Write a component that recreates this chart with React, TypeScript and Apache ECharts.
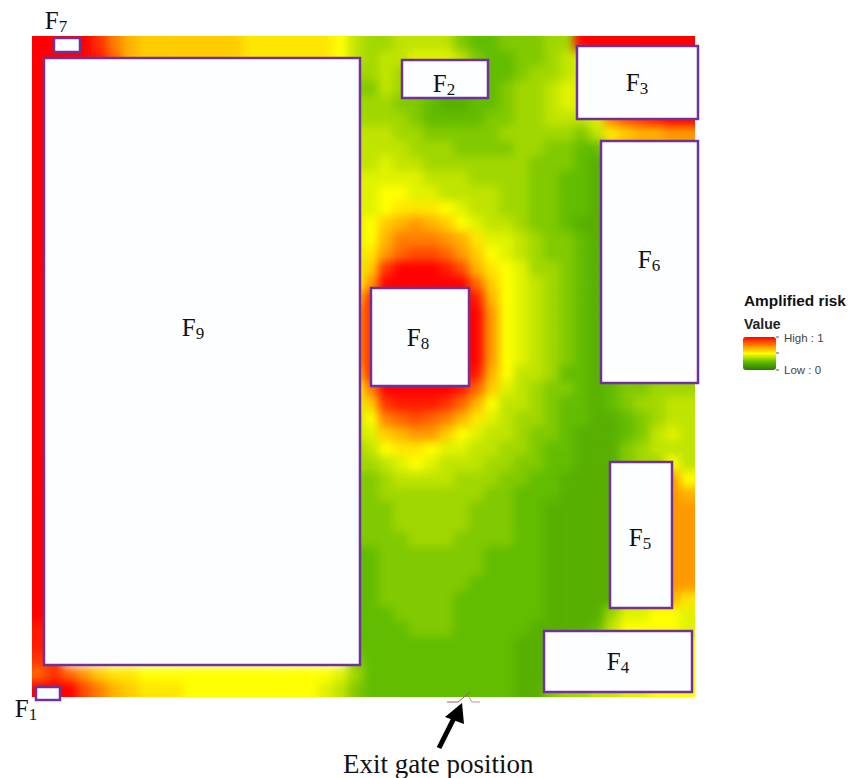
import React, { useEffect, useRef } from "react";
import * as echarts from "echarts";

// Risk field: one character per cell, "0".."k" = 0..20 twentieths of full risk,
// "." = cell deep inside the largest facility (never visible).
const RISK_CODES = "0123456789abcdefghijk";
const RISK_ROWS = [
  "kkkkifdcccccccbbbbbba8" + "77888865566677" + "kkkkkkkk",
  "kkkkjgdcccccccbbbbbba8" + "78899986556678" + "9kkkkkkk",
  "kk...................7" + "78766555556778" + "9kkkkkkk",
  "kk...................6" + "68766555567789" + "9kkkkkkk",
  "kk...................7" + "77665445567789" + "9kkkkkkk",
  "kk...................7" + "77765555667788" + "89fhijkk",
  "kk...................8" + "88776666677777" + "68bcddee",
  "kk...................8" + "88877766667766" + "55ceeeee",
  "kk...................8" + "89887777777666" + "54455555",
  "kk...................9" + "99998887777665" + "54455555",
  "kk...................9" + "9aa99888877665" + "54455555",
  "kk...................9" + "9abbba98877665" + "54455555",
  "kk...................9" + "acdedca9887665" + "44455555",
  "kk...................9" + "adfffedb998766" + "54455555",
  "kk...................9" + "beghhgeca98766" + "54455555",
  "kk...................9" + "cikkkjhdba9776" + "54455555",
  "kk...................a" + "ekkkkkkgca9876" + "54455555",
  "kk...................c" + "ikkkkkkjda9876" + "54455555",
  "kk...................e" + "ikkkkkkkea9876" + "54455555",
  "kk...................e" + "ikkkkkkkea9876" + "54455555",
  "kk...................e" + "ikkkkkkkea9876" + "54455555",
  "kk...................e" + "ikkkkkkkea9876" + "54455555",
  "kk...................c" + "ikkkkkkjda8875" + "54455566",
  "kk...................a" + "fkkkkkjgc98766" + "54566777",
  "kk...................9" + "cijjjigda88765" + "54567788",
  "kk...................8" + "afghgfdb987765" + "54456788",
  "kk...................8" + "9cdeeca9887665" + "44456898",
  "kk...................7" + "8abba998877655" + "44467888",
  "kk...................7" + "789a9888776655" + "444677a8",
  "kk...................6" + "67888877766554" + "444777ea",
  "kk...................6" + "67777777665554" + "44488ded",
  "kk...................6" + "66777776665544" + "44488dee",
  "kk...................6" + "66777776665544" + "44488dee",
  "kk...................6" + "66677766665544" + "44488dee",
  "kk...................5" + "56666666555544" + "44488dee",
  "kk...................5" + "56666666555544" + "44488dee",
  "kk...................5" + "56666665555544" + "44488dee",
  "kk...................5" + "56666655555544" + "44488cdb",
  "kk...................5" + "55666655555544" + "44799aa9",
  "jj...................5" + "55566655555444" + "458aaaa9",
  "jj...................5" + "55555555554445" + "6789aaaa",
  "ii...................6" + "55555555554445" + "6789aaaa",
  "gigecbbaaaaaaaaaaaaa97" + "55555555554445" + "6789aaaa",
  "kkkhfdcbbbaaaaaaaaa986" + "55555555554467" + "78899aaa",
];

const FACILITY_NAMES = ["1", "2", "3", "4", "5", "6", "7", "8", "9"];
const FACILITY_X0 = [4, 370, 545, 512, 578, 569, 22, 339, 12];
const FACILITY_X1 = [28, 456, 666, 660, 640, 666, 48, 437, 328];
const FACILITY_Y0 = [651, 24, 10, 595, 426, 105, 2, 252, 22];
const FACILITY_Y1 = [664, 62, 83, 656, 572, 347, 16, 350, 629];
const LABEL_X = [-6, 412, 605, 586, 608, 617, 24, 386, 161];
const LABEL_Y = [672, 47, 46, 625, 501, 223, -16, 301, 291];

const RISK_COLORS = ["#2a7a00", "#62bc00", "#ffff00", "#ff8000", "#ff0000"];

const PAD_ROWS = [RISK_ROWS[0], ...RISK_ROWS, RISK_ROWS[RISK_ROWS.length - 1]].map(
  (r) => r[0] + r + r[r.length - 1],
);
const COLUMNS = PAD_ROWS[0].split("").map((_, i) => String(i));
const ROWS = PAD_ROWS.map((_, i) => String(i));
const SITE_W = 663;
const SITE_H = 661;
const PAD = 15;

export default function App() {
  const ref = useRef<HTMLDivElement>(null);
  const heatRef = useRef<HTMLDivElement>(null);
  useEffect(() => {
    if (!ref.current || !heatRef.current) return;
    const heat = echarts.init(heatRef.current, undefined, { renderer: "svg" });
    const chart = echarts.init(ref.current, undefined, { renderer: "svg" });
    const cells: number[][] = [];
    PAD_ROWS.forEach((row, y) => {
      row.split("").forEach((ch, x) => {
        const idx = RISK_CODES.indexOf(ch);
        if (idx >= 0) cells.push([x, y, idx / 20]);
      });
    });
    heat.setOption({
      animation: false,
      grid: { left: 0, right: 0, top: 0, bottom: 0 },
      xAxis: { type: "category", data: COLUMNS, show: false },
      yAxis: { type: "category", data: ROWS, inverse: true, show: false },
      visualMap: {
        show: false,
        seriesIndex: 0,
        dimension: 2,
        min: 0,
        max: 1,
        inRange: { color: RISK_COLORS },
      },
      series: [
        {
          type: "heatmap",
          data: cells,
          silent: true,
          itemStyle: { borderWidth: 0 },
          emphasis: { disabled: true },
        },
      ],
    });
    const facilityData = FACILITY_NAMES.map((n, i) => [
      FACILITY_X0[i], FACILITY_Y0[i], FACILITY_X1[i], FACILITY_Y1[i], LABEL_X[i], LABEL_Y[i], n,
    ]);
    const serif = "'Liberation Serif', 'Times New Roman', serif";
    const sans = "'Liberation Sans', Arial, sans-serif";
    chart.setOption({
      animation: false,
      grid: { left: 32, top: 36, width: SITE_W, height: SITE_H },
      xAxis: { type: "value", min: 0, max: SITE_W, show: false },
      yAxis: { type: "value", min: 0, max: SITE_H, inverse: true, show: false },
      visualMap: {
        type: "continuous",
        seriesIndex: 0,
        dimension: 7,
        min: 0,
        max: 1,
        calculable: false,
        left: 743,
        top: 337,
        itemWidth: 33,
        itemHeight: 33,
        text: ["", ""],
        padding: 0,
        inRange: { color: RISK_COLORS },
      },
      series: [
        {
          type: "custom",
          silent: true,
          clip: false,
          z: 5,
          data: facilityData,
          encode: { x: [0, 2], y: [1, 3] },
          renderItem: (_p: any, api: any) => {
            const a = api.coord([api.value(0), api.value(1)]);
            const b = api.coord([api.value(2), api.value(3)]);
            const l = api.coord([api.value(4), api.value(5)]);
            return {
              type: "group",
              children: [
                {
                  type: "rect",
                  shape: { x: a[0], y: a[1], width: b[0] - a[0], height: b[1] - a[1] },
                  style: { fill: "#fdfeff", stroke: "#7030a0", lineWidth: 2.5 },
                },
                {
                  type: "text",
                  x: l[0],
                  y: l[1],
                  style: {
                    text: `{f|F}{s|${api.value(6)}}`,
                    align: "center",
                    verticalAlign: "middle",
                    fill: "#111111",
                    rich: {
                      f: { fontFamily: serif, fontSize: 25, fill: "#111111", height: 30, verticalAlign: "middle" },
                      s: { fontFamily: serif, fontSize: 17, fill: "#111111", height: 30, verticalAlign: "bottom", padding: [12, 0, 0, 0] },
                    },
                  },
                },
              ],
            };
          },
        },
      ],
      graphic: [
        { type: "text", x: 744, y: 293, style: { text: "Amplified risk", font: `bold 15.4px ${sans}`, fill: "#111" } },
        { type: "text", x: 744, y: 317, style: { text: "Value", font: `bold 14px ${sans}`, fill: "#222" } },
        { type: "text", x: 784, y: 332, style: { text: "High : 1", font: `11.5px ${sans}`, fill: "#444" } },
        { type: "text", x: 784, y: 364, style: { text: "Low : 0", font: `11.5px ${sans}`, fill: "#444" } },
        { type: "line", shape: { x1: 776, y1: 337, x2: 779, y2: 337 }, style: { stroke: "#555", lineWidth: 1 } },
        { type: "line", shape: { x1: 776, y1: 353, x2: 779, y2: 353 }, style: { stroke: "#555", lineWidth: 1 } },
        { type: "line", shape: { x1: 776, y1: 370, x2: 779, y2: 370 }, style: { stroke: "#555", lineWidth: 1 } },
        { type: "polyline", shape: { points: [[447, 702], [458, 702], [470, 692]] }, style: { stroke: "#a06070", fill: "none", lineWidth: 1 } },
        { type: "polyline", shape: { points: [[469, 697], [472, 702], [480, 702]] }, style: { stroke: "#c09098", fill: "none", lineWidth: 1 } },
        { type: "line", shape: { x1: 439, y1: 748, x2: 457, y2: 712 }, style: { stroke: "#000", lineWidth: 5 } },
        { type: "polygon", shape: { points: [[462, 703], [445, 717], [464, 724]] }, style: { fill: "#000" } },
        { type: "text", x: 343, y: 750, style: { text: "Exit gate position", font: `27px ${serif}`, fill: "#111" } },
      ],
    });
    return () => {
      chart.dispose();
      heat.dispose();
    };
  }, []);
  return (
    <div style={{ position: "fixed", left: 0, top: 0, width: 848, height: 778, background: "#fff" }}>
      <div style={{ position: "absolute", left: 32, top: 36, width: SITE_W, height: SITE_H, overflow: "hidden" }}>
        <div
          ref={heatRef}
          style={{
            position: "absolute",
            left: -PAD,
            top: -PAD,
            width: SITE_W + 2 * PAD,
            height: SITE_H + 2 * PAD,
            filter: "blur(5px)",
          }}
        />
      </div>
      <div ref={ref} style={{ position: "absolute", left: 0, top: 0, width: 848, height: 778 }} />
    </div>
  );
}
